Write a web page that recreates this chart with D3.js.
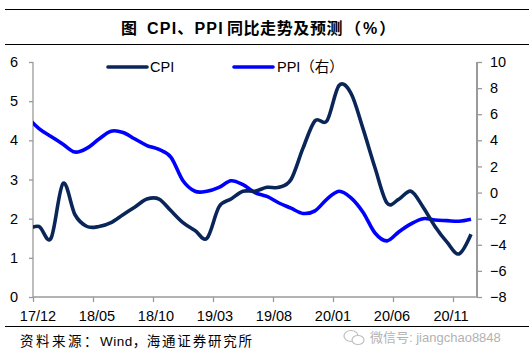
<!DOCTYPE html>
<html><head><meta charset="utf-8">
<script src="https://cdn.jsdelivr.net/npm/d3@7"></script>
<style>
body{margin:0;background:#fff;}
svg{display:block;font-family:"Liberation Sans","Noto Sans CJK SC",sans-serif;}
</style></head>
<body><svg id="c" width="531" height="359"></svg>
<script>
// months from 17/11 (clipped, left of axis) to 20/12
const months = ["17/11","17/12","18/01","18/02","18/03","18/04","18/05","18/06","18/07","18/08","18/09","18/10","18/11","18/12",
"19/01","19/02","19/03","19/04","19/05","19/06","19/07","19/08","19/09","19/10","19/11","19/12",
"20/01","20/02","20/03","20/04","20/05","20/06","20/07","20/08","20/09","20/10","20/11","20/12"];
const cpi = [1.7,1.8,1.5,2.9,2.1,1.8,1.8,1.9,2.1,2.3,2.5,2.5,2.2,1.9,
1.7,1.5,2.3,2.5,2.7,2.7,2.8,2.8,3.0,3.8,4.5,4.5,
5.4,5.2,4.3,3.3,2.4,2.5,2.7,2.3,1.8,1.4,1.1,1.6];
const ppi = [5.8,4.9,4.3,3.7,3.1,3.4,4.1,4.7,4.6,4.1,3.6,3.3,2.7,0.9,
0.1,0.1,0.4,0.9,0.6,0.0,-0.3,-0.8,-1.2,-1.6,-1.4,-0.5,
0.1,-0.4,-1.5,-3.1,-3.7,-3.0,-2.4,-2.0,-2.1,-2.15,-2.2,-2.05];
const xLabels = ["17/12","18/05","18/10","19/03","19/08","20/01","20/06","20/11"];
const leftTicks = [0,1,2,3,4,5,6];
const rightTicks = [-8,-6,-4,-2,0,2,4,6,8,10];

const svg = d3.select("#c");
const L = 33, R = 477, T = 62, B = 297;
const x = d3.scaleLinear().domain([0.5, 37.5]).range([L, R]);
const yL = d3.scaleLinear().domain([0, 6]).range([B, T]);
const yR = d3.scaleLinear().domain([-8, 10]).range([B, T]);

// title and rules
svg.append("line").attr("x1",5).attr("x2",529).attr("y1",9.5).attr("y2",9.5).attr("stroke","#000").attr("stroke-width",1);
svg.append("line").attr("x1",5).attr("x2",529).attr("y1",44.5).attr("y2",44.5).attr("stroke","#000").attr("stroke-width",1);
svg.append("line").attr("x1",5).attr("x2",529).attr("y1",326.5).attr("y2",326.5).attr("stroke","#000").attr("stroke-width",1);
const title = svg.append("text").attr("x",121).attr("y",34)
  .attr("font-size",16).attr("font-weight","bold").attr("fill","#000");
title.append("tspan").attr("letter-spacing",0).text("图");
title.append("tspan").attr("dx",10).attr("letter-spacing",1.2).text("CPI、PPI");
title.append("tspan").attr("dx",3).attr("letter-spacing",0.6).text("同比走势及预测");
title.append("tspan").attr("dx",2).attr("letter-spacing",0).text("（");
title.append("tspan").attr("dx",2).attr("letter-spacing",0).text("%");
title.append("tspan").attr("dx",2).attr("letter-spacing",0).text("）");

const axisColor = "#9a9a9a";
// left axis
const gl = svg.append("g").attr("transform",`translate(${L},0)`)
  .call(d3.axisLeft(yL).tickValues(leftTicks).tickSize(4).tickPadding(11).tickFormat(d3.format("d")));
// right axis
const gr = svg.append("g").attr("transform",`translate(${R},0)`)
  .call(d3.axisRight(yR).tickValues(rightTicks).tickSize(5).tickPadding(8).tickFormat(d3.format("d")));
// bottom axis
const tickIdx = d3.range(0.5, 37, 5);
const gb = svg.append("g").attr("transform",`translate(0,${B})`)
  .call(d3.axisBottom(x).tickValues(tickIdx).tickSize(5).tickSizeOuter(0).tickFormat(""));
[gl,gr,gb].forEach(g=>{
  g.select(".domain").attr("stroke",axisColor).attr("stroke-width",1.3);
  g.selectAll(".tick line").attr("stroke",axisColor).attr("stroke-width",1.3);
  g.selectAll(".tick text").attr("fill","#000").attr("font-size",14.5)
   .attr("font-family","Liberation Sans, sans-serif");
});
gl.select(".domain").attr("d",`M0,${T}V${B}`);
gr.select(".domain").attr("d",`M0,${T}V${B}`).attr("stroke-width",2);
gb.select(".domain").attr("d",`M${L},0H${R}`);

// x labels
const labelX = d3.scalePoint().domain(xLabels).range([x(1)-1, x(36)-8]);
svg.append("g").selectAll("text").data(xLabels).join("text")
  .attr("x",d=>labelX(d)).attr("y",321).attr("text-anchor","middle")
  .attr("font-size",14.5).attr("fill","#000").text(d=>d);

// lines
svg.append("clipPath").attr("id","clip").append("rect")
  .attr("x",L).attr("y",0).attr("width",R-L).attr("height",359);
const curve = d3.curveCardinal.tension(0);
const lineL = d3.line().x((d,i)=>x(i)).y(d=>yL(d)).curve(curve);
const lineR = d3.line().x((d,i)=>x(i)).y(d=>yR(d)).curve(curve);
const plot = svg.append("g").attr("clip-path","url(#clip)");
plot.append("path").attr("d",lineR(ppi)).attr("fill","none").attr("stroke","#0000ff").attr("stroke-width",3.6).attr("stroke-linejoin","round");
plot.append("path").attr("d",lineL(cpi)).attr("fill","none").attr("stroke","#0a2659").attr("stroke-width",3.6).attr("stroke-linejoin","round");

// legend
const lg = svg.append("g");
lg.append("line").attr("x1",108).attr("x2",147).attr("y1",67).attr("y2",67).attr("stroke","#0a2659").attr("stroke-width",3.6).attr("stroke-linecap","round");
lg.append("text").attr("x",150).attr("y",72).attr("font-size",14.5).attr("fill","#000").text("CPI");
lg.append("line").attr("x1",234).attr("x2",273).attr("y1",67).attr("y2",67).attr("stroke","#0000ff").attr("stroke-width",3.6).attr("stroke-linecap","round");
lg.append("text").attr("x",277).attr("y",72).attr("font-size",14.5).attr("fill","#000").text("PPI（右）");

// source
const src = svg.append("text").attr("x",20).attr("y",346).attr("font-size",13.5).attr("fill","#000");
src.append("tspan").attr("letter-spacing",2.5).text("资料来源：");
src.append("tspan").attr("letter-spacing",0.5).text("Wind，");
src.append("tspan").attr("letter-spacing",1.8).text("海通证券研究所");
// watermark
const wm = svg.append("g").attr("opacity",0.75);
wm.append("ellipse").attr("cx",351).attr("cy",336).attr("rx",7).attr("ry",5.5).attr("fill","none").attr("stroke","#aaa").attr("stroke-width",1.2);
wm.append("ellipse").attr("cx",358).attr("cy",340).attr("rx",6).attr("ry",4.5).attr("fill","#fff").attr("stroke","#aaa").attr("stroke-width",1.2);
wm.append("text").attr("x",370).attr("y",342).attr("font-size",13).attr("fill","#999").text("微信号: jiangchao8848");
</script></body></html>
